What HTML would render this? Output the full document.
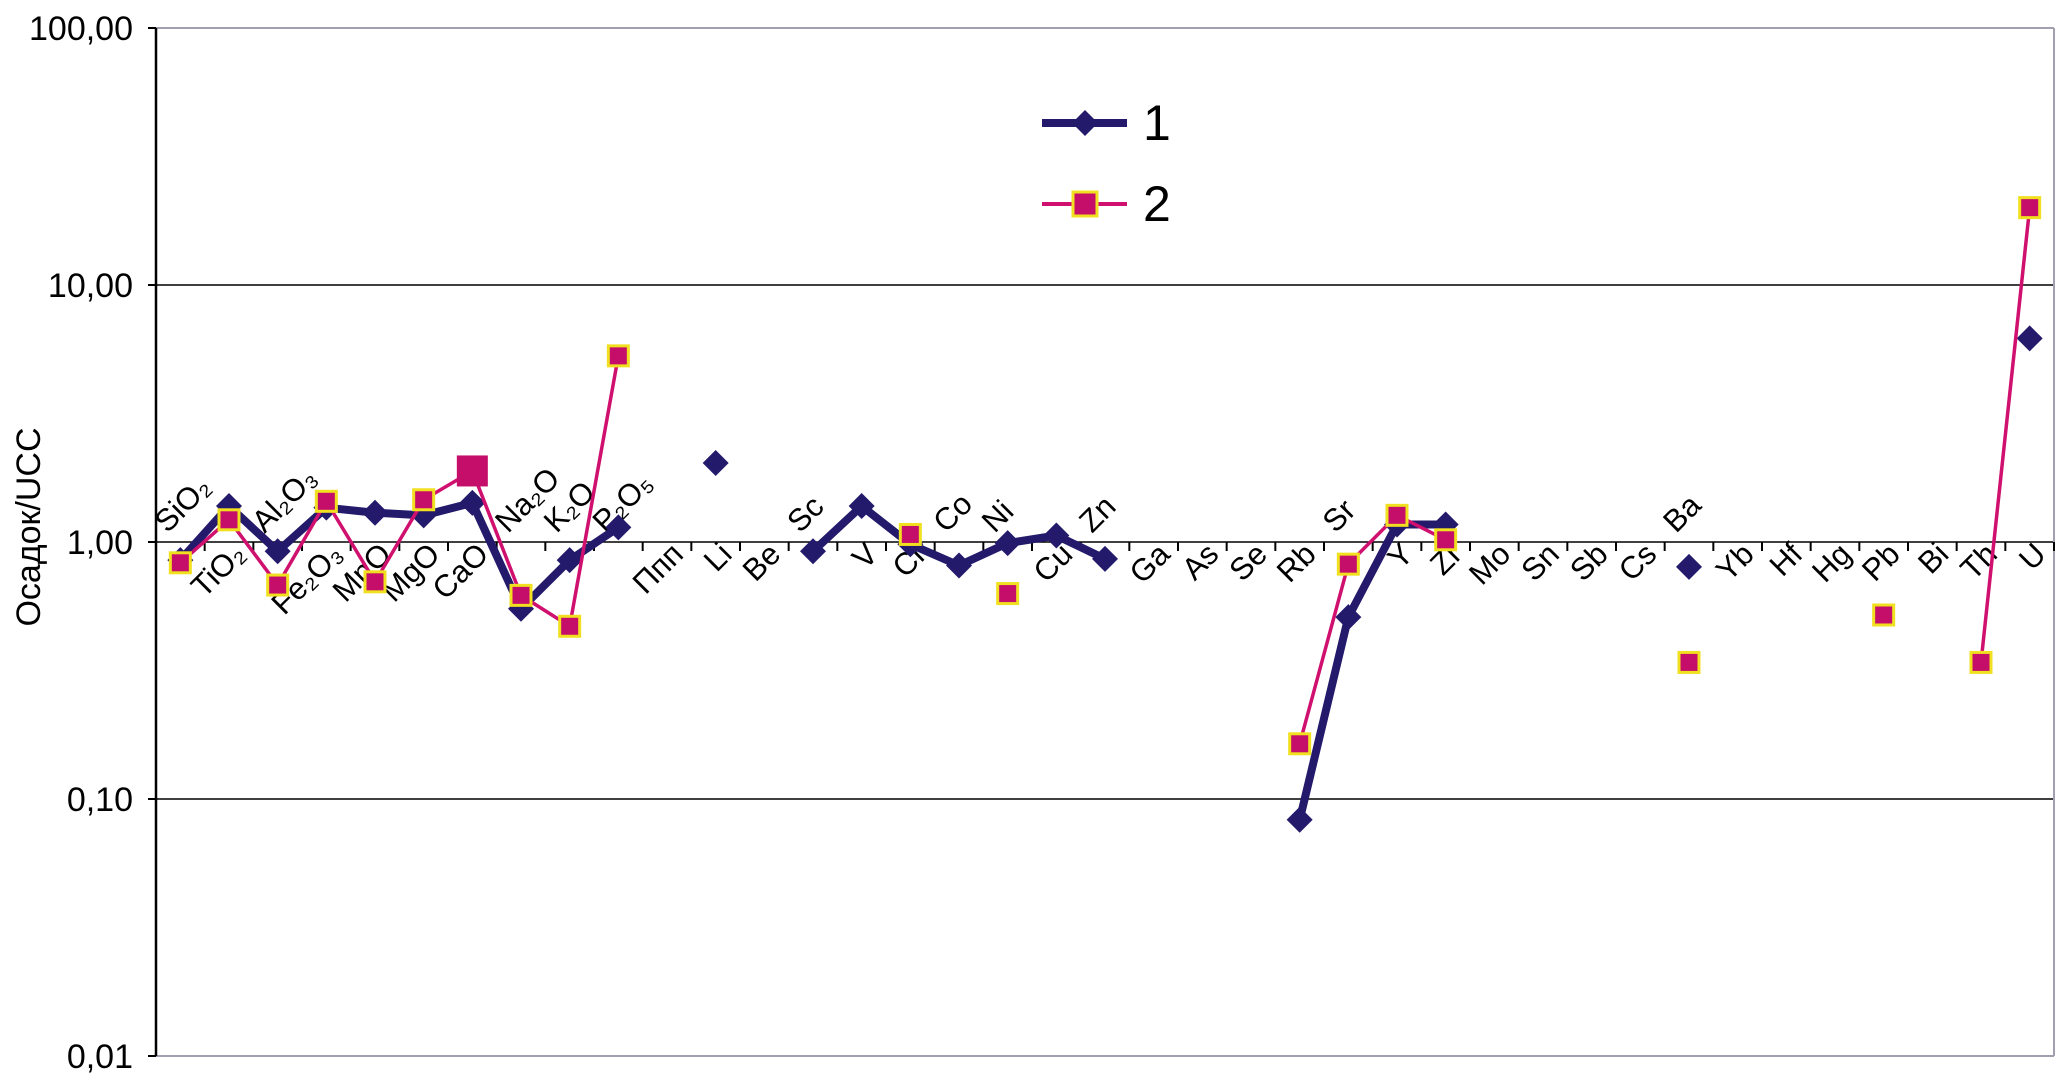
<!DOCTYPE html>
<html><head><meta charset="utf-8"><style>
html,body{margin:0;padding:0;background:#fff;}
svg{display:block;font-family:"Liberation Sans",Arial,sans-serif;}
</style></head><body>
<svg id="chart" width="2067" height="1087" viewBox="0 0 2067 1087">
<g id="grid"></g>
<g id="yt"></g>
<text transform="translate(40,527) rotate(-90)" text-anchor="middle" font-size="34" fill="#000">Осадок/UCC</text>
<g id="xt"></g>
<g id="s1"></g>
<g id="s2"></g>
<g>
<line x1="1042" y1="123" x2="1127" y2="123" stroke="#231a6b" stroke-width="8"/>
<path d="M1085 110 L1098 123 L1085 136 L1072 123Z" fill="#231a6b"/>
<text x="1143" y="140" font-size="50" fill="#000">1</text>
<line x1="1042" y1="204" x2="1127" y2="204" stroke="#d0106e" stroke-width="4"/>
<rect x="1073" y="192" width="24" height="24" fill="#c40e6a" stroke="#f0e020" stroke-width="3"/>
<text x="1143" y="221" font-size="50" fill="#000">2</text>
</g>
</svg>
<script>
const categories=["SiO₂","TiO₂","Al₂O₃","Fe₂O₃","MnO","MgO","CaO","Na₂O","K₂O","P₂O₅","Ппп","Li","Be","Sc","V","Cr","Co","Ni","Cu","Zn","Ga","As","Se","Rb","Sr","Y","Zr","Mo","Sn","Sb","Cs","Ba","Yb","Hf","Hg","Pb","Bi","Th","U"];
const aboveLabels=["SiO₂","Al₂O₃","Na₂O","K₂O","P₂O₅","Sc","Co","Ni","Zn","Sr","Ba"];
const series1=[0.85,1.38,0.92,1.36,1.30,1.27,1.42,0.55,0.85,1.14,null,2.03,null,0.92,1.38,0.98,0.81,0.99,1.06,0.86,null,null,null,0.083,0.51,1.17,1.17,null,null,null,null,0.80,null,null,null,null,null,null,6.2];
const series2=[0.83,1.22,0.68,1.44,0.70,1.46,1.89,0.62,0.47,5.3,null,null,null,null,null,1.07,null,0.63,null,null,null,null,null,0.164,0.82,1.27,1.02,null,null,null,null,0.34,null,null,null,0.52,null,0.34,20];
const yTicks=[100,10,1,0.1,0.01];
const yTickLabels=["100,00","10,00","1,00","0,10","0,01"];
const NS="http://www.w3.org/2000/svg";
const L=156,R=2054,n=categories.length,step=(R-L)/n;
const xOf=i=>L+step*(i+0.5);
const yOf=v=>542-Math.log10(v)*257;
function mk(t,a,p){const e=document.createElementNS(NS,t);for(const k in a)e.setAttribute(k,a[k]);p.appendChild(e);return e;}
const grid=document.getElementById('grid'),yt=document.getElementById('yt'),xt=document.getElementById('xt');
yTicks.forEach((v,k)=>{
  const y=yOf(v);
  const gray=(v===100||v===0.01);
  const ln=mk('line',{x1:L,x2:R,y1:y,y2:y,stroke:gray?'#a0a0b0':'#000','stroke-width':gray?2:1.5},grid);
  
  
  mk('line',{x1:L-8,x2:L,y1:y,y2:y,stroke:'#000','stroke-width':2},yt);
  const t=mk('text',{x:133,y:y+12,'text-anchor':'end','font-size':34,fill:'#000'},yt);
  t.textContent=yTickLabels[k];
  
  
});
mk('line',{x1:L,x2:L,y1:yOf(100),y2:yOf(0.01),stroke:'#000','stroke-width':2.5},grid);
mk('line',{x1:R,x2:R,y1:yOf(100),y2:yOf(0.01),stroke:'#a0a0b0','stroke-width':2},grid);
for(let i=0;i<=n;i++){const x=L+step*i;mk('line',{x1:x,x2:x,y1:542,y2:551,stroke:'#000','stroke-width':2},grid);}
categories.forEach((c,i)=>{
  const x=xOf(i);let t;
  if(aboveLabels.includes(c)){t=mk('text',{x:x-13,y:534,'font-size':31,fill:'#000',transform:`rotate(-45 ${x-13} 534)`},xt);}
  else{t=mk('text',{x:x+18,y:556,'font-size':31,fill:'#000','text-anchor':'end',transform:`rotate(-45 ${x+18} 556)`},xt);}
  t.textContent=c;
  
  
});
function drawLines(data,g,color,w){
  let seg=[];
  const flush=()=>{if(seg.length>1){const p=mk('polyline',{points:seg.join(' '),fill:'none',stroke:color,'stroke-width':w,'stroke-linejoin':'round'},g);}seg=[];};
  data.forEach((v,i)=>{if(v==null){flush();}else seg.push(xOf(i)+','+yOf(v));});flush();
}
const s1=document.getElementById('s1'),s2=document.getElementById('s2');
drawLines(series1,s1,'#231a6b',8);
drawLines(series2,s2,'#d0106e',3.5);
series1.forEach((v,i)=>{if(v==null)return;const x=xOf(i),y=yOf(v);
  const p=mk('path',{d:`M${x} ${y-13}L${x+13} ${y}L${x} ${y+13}L${x-13} ${y}Z`,fill:'#231a6b'},s1);
  
  
});
series2.forEach((v,i)=>{if(v==null)return;const x=xOf(i),y=yOf(v);const h=(i===6)?14:10;
  const r=mk('rect',{x:x-h,y:y-h,width:2*h,height:2*h,fill:'#c40e6a',stroke:i===6?'#c40e6a':'#f0e020','stroke-width':3},s2);
  
  
});
</script>
</body></html>
